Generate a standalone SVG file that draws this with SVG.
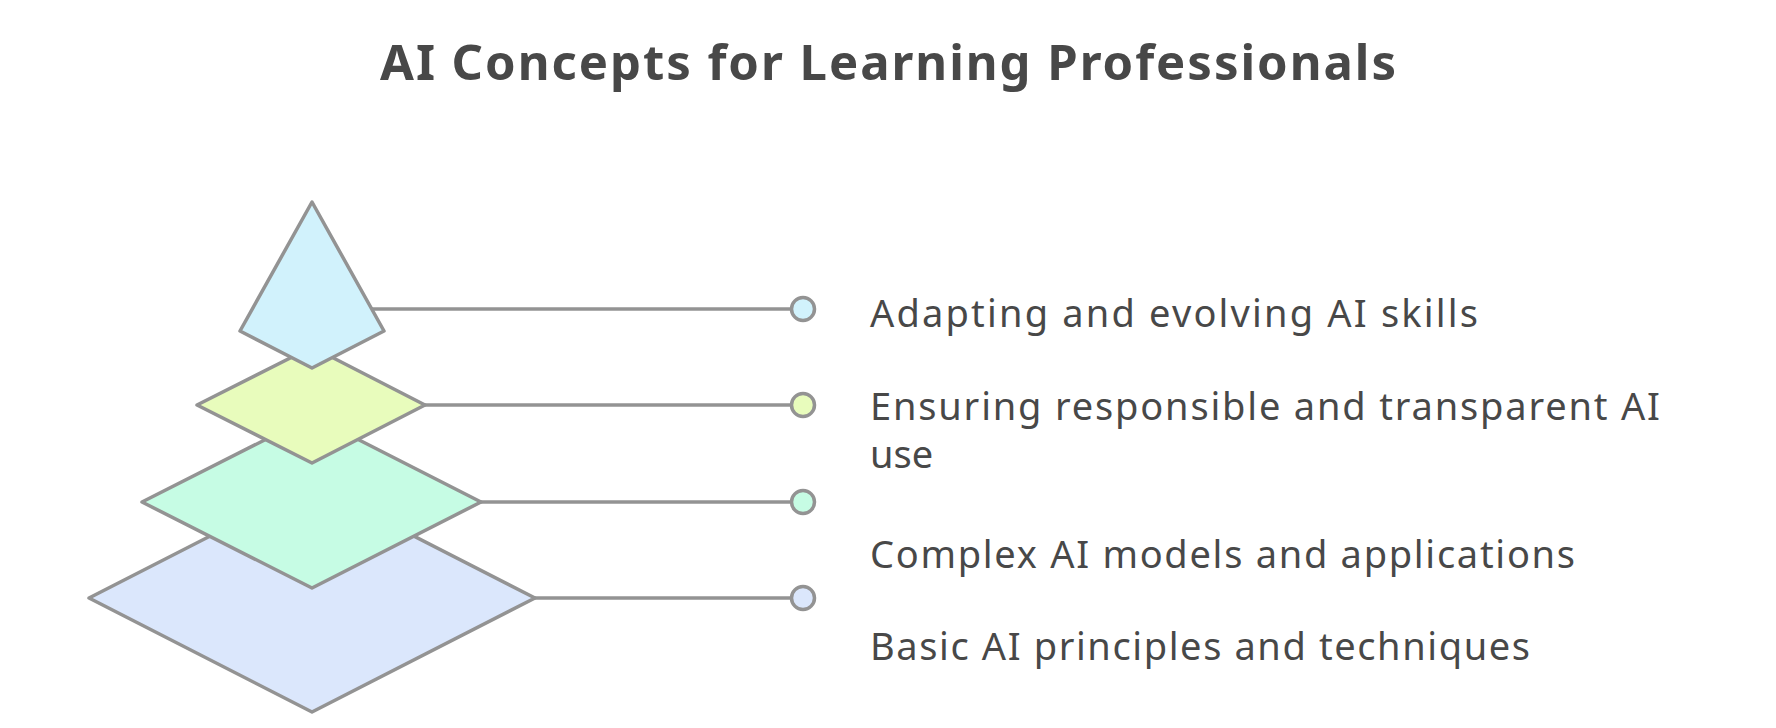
<svg xmlns="http://www.w3.org/2000/svg" width="1776" height="728" viewBox="0 0 1776 728">
<style>
.bg{fill:#ffffff}
.shape{stroke:#939393;stroke-width:3.5;stroke-linejoin:round}
.conn{stroke:#939393;stroke-width:3.5;fill:none}
.dot{stroke:#939393;stroke-width:3.5}
.title{font-family:"Noto Sans","Liberation Sans",sans-serif;font-weight:700;font-size:49px;fill:#484848}
.label{font-family:"Noto Sans","Liberation Sans",sans-serif;font-size:38px;fill:#484848}
</style>
<rect class="bg" x="0" y="0" width="1776" height="728"/>
<text class="title" x="888" y="80" text-anchor="middle" textLength="1016">AI Concepts for Learning Professionals</text>
<g id="connectors">
<line class="conn" x1="312" y1="309" x2="791" y2="309"/>
<line class="conn" x1="312" y1="405" x2="791" y2="405"/>
<line class="conn" x1="312" y1="502" x2="791" y2="502"/>
<line class="conn" x1="312" y1="598" x2="791" y2="598"/>
</g>
<g id="level-basic">
<polygon class="shape" fill="#dbe7fc" points="312,484 535,598 312,712 89,598"/>
<circle class="dot" fill="#dbe7fc" cx="803" cy="598" r="11.5"/>
<text class="label" x="870" y="660" textLength="660">Basic AI principles and techniques</text>
</g>
<g id="level-complex">
<polygon class="shape" fill="#c6fce4" points="312,416 481,502 312,588 142,502"/>
<circle class="dot" fill="#c6fce4" cx="803" cy="502" r="11.5"/>
<text class="label" x="870" y="568" textLength="705">Complex AI models and applications</text>
</g>
<g id="level-ethics">
<polygon class="shape" fill="#e8fcbc" points="312,347 425,405 312,463 197,405"/>
<circle class="dot" fill="#e8fcbc" cx="803" cy="405" r="11.5"/>
<text class="label" x="870" y="420" textLength="790">Ensuring responsible and transparent AI</text>
<text class="label" x="870" y="468">use</text>
</g>
<g id="level-adapting">
<polygon class="shape" fill="#d1f2fc" points="312,202 384,331 312,368 240,331"/>
<circle class="dot" fill="#d1f2fc" cx="803" cy="309" r="11.5"/>
<text class="label" x="870" y="327" textLength="608">Adapting and evolving AI skills</text>
</g>
</svg>
